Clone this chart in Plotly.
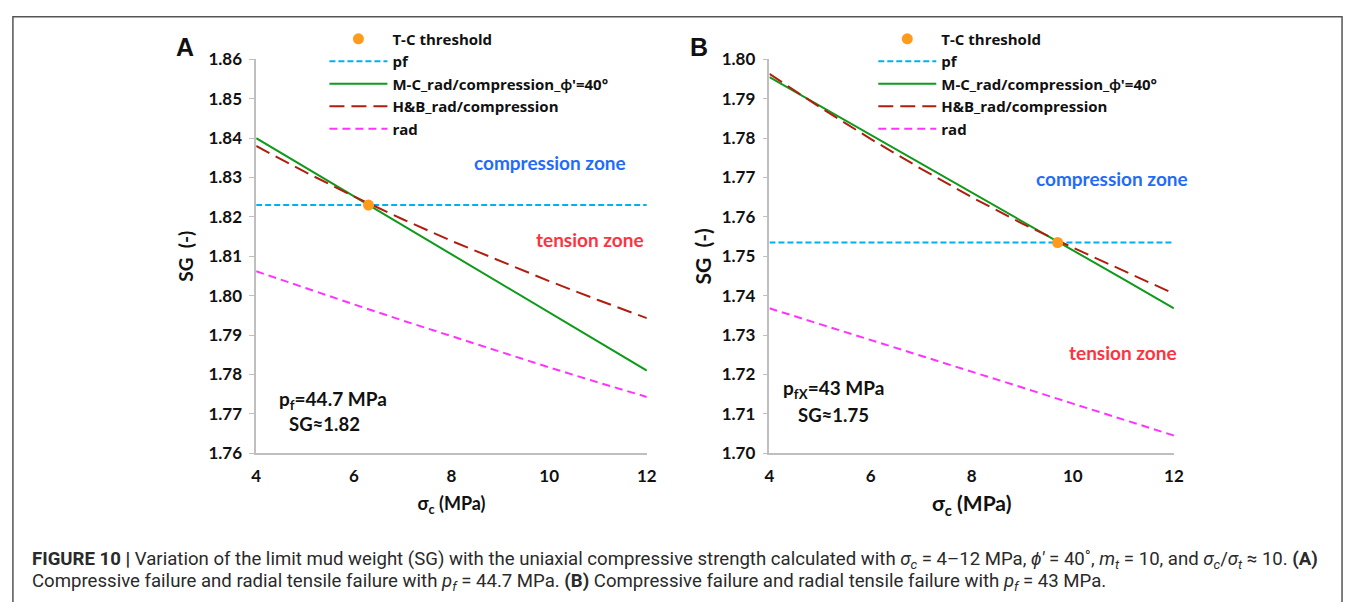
import plotly.graph_objects as go

W, H = 1356, 612

# ---------------- data ----------------
sigma_c = [4, 5, 6, 7, 8, 9, 10, 11, 12]

# Panel A (pf = 44.7 MPa)
a_pf = [1.823] * 9
a_mc = [1.8400, 1.8326, 1.8252, 1.8179, 1.8105, 1.8031, 1.7957, 1.7884, 1.7810]
a_hb = [1.8380, 1.8314, 1.8252, 1.8194, 1.8139, 1.8087, 1.8037, 1.7989, 1.7943]
a_rad = [1.8062, 1.8019, 1.7978, 1.7937, 1.7897, 1.7857, 1.7818, 1.7780, 1.7743]
a_tc_x, a_tc_y = [6.3], [1.823]

# Panel B (pf = 43 MPa)
b_pf = [1.7535] * 9
b_mc = [1.7955, 1.7882, 1.7808, 1.7735, 1.7662, 1.7588, 1.7515, 1.7442, 1.7368]
b_hb = [1.7963, 1.7878, 1.7798, 1.7722, 1.7650, 1.7583, 1.7522, 1.7463, 1.7405]
b_rad = [1.7368, 1.7328, 1.7288, 1.7248, 1.7207, 1.7167, 1.7126, 1.7085, 1.7045]
b_tc_x, b_tc_y = [9.7], [1.7535]

x_ticks = [4, 6, 8, 10, 12]
a_yticks = [1.76, 1.77, 1.78, 1.79, 1.80, 1.81, 1.82, 1.83, 1.84, 1.85, 1.86]
b_yticks = [1.70, 1.71, 1.72, 1.73, 1.74, 1.75, 1.76, 1.77, 1.78, 1.79, 1.80]

names = ["T-C threshold", "pf", "M-C_rad/compression_\u03d5'=40\u00b0", "H&B_rad/compression", "rad"]

# ---------------- styles ----------------
C_PF = "#00B0F0"
C_MC = "#0E9A1A"
C_HB = "#B01E10"
C_RAD = "#FF33FF"
C_TC = "#FF9A1A"
FONT = "Lato, 'Open Sans', sans-serif"
LEGFONT = "'Open Sans', Lato, sans-serif"


def px(x):
    return x / W


def py(y):
    return 1 - y / H


fig = go.Figure()


def add_panel(xa, ya, leg, pf, mc, hb, rad, tcx, tcy):
    fig.add_trace(go.Scatter(x=sigma_c, y=pf, mode="lines", name=names[1], legend=leg, legendrank=2,
                             line=dict(color=C_PF, width=2, dash="6px,3px"), xaxis=xa, yaxis=ya))
    fig.add_trace(go.Scatter(x=sigma_c, y=mc, mode="lines", name=names[2], legend=leg, legendrank=3,
                             line=dict(color=C_MC, width=2), xaxis=xa, yaxis=ya))
    fig.add_trace(go.Scatter(x=sigma_c, y=hb, mode="lines", name=names[3], legend=leg, legendrank=4,
                             line=dict(color=C_HB, width=2, dash="15px,7px"), xaxis=xa, yaxis=ya))
    fig.add_trace(go.Scatter(x=sigma_c, y=rad, mode="lines", name=names[4], legend=leg, legendrank=5,
                             line=dict(color=C_RAD, width=2, dash="8px,5px"), xaxis=xa, yaxis=ya))
    fig.add_trace(go.Scatter(x=tcx, y=tcy, mode="markers", name=names[0], legend=leg, legendrank=1,
                             marker=dict(color=C_TC, size=11), xaxis=xa, yaxis=ya))


add_panel("x", "y", "legend", a_pf, a_mc, a_hb, a_rad, a_tc_x, a_tc_y)
add_panel("x2", "y2", "legend2", b_pf, b_mc, b_hb, b_rad, b_tc_x, b_tc_y)

axis_common = dict(showline=True, linecolor="#BFBFBF", linewidth=1.5, showgrid=False, zeroline=False)


def tfont(size, family=FONT):
    return dict(family=family, size=size, color="#111", weight="bold")


ydom = [py(458), py(50)]
fig.update_layout(
    autosize=True,
    margin=dict(l=0, r=0, t=0, b=0),
    paper_bgcolor="white", plot_bgcolor="white",
    xaxis=dict(domain=[px(254), px(649)], range=[4, 12], tickvals=x_ticks, ticks="", anchor="y",
               tickfont=tfont(17), ticklabelstandoff=7,
               title=dict(text="<b>\u03c3<sub>c</sub> (MPa)</b>", font=dict(family=FONT, size=18, color="#111"), standoff=12),
               **axis_common),
    yaxis=dict(domain=ydom, range=[1.76, 1.86], tickvals=a_yticks, tickformat=".2f", ticks="outside",
               ticklen=5, tickcolor="#BFBFBF", anchor="x", tickfont=tfont(17), ticklabelstandoff=4,
               title=dict(text="<b>SG  (-)</b>", font=dict(family=FONT, size=19, color="#111"), standoff=10),
               **axis_common),
    xaxis2=dict(domain=[px(773), px(1182)], range=[4, 12], tickvals=x_ticks, ticks="", anchor="y2",
                tickfont=tfont(17), ticklabelstandoff=7,
                title=dict(text="<b>\u03c3<sub>c</sub> (MPa)</b>", font=dict(family=FONT, size=21, color="#111"), standoff=11),
                **axis_common),
    yaxis2=dict(domain=ydom, range=[1.70, 1.80], tickvals=b_yticks, tickformat=".2f", ticks="outside",
                ticklen=5, tickcolor="#BFBFBF", anchor="x2", tickfont=tfont(17), ticklabelstandoff=4,
                title=dict(text="<b>SG  (-)</b>", font=dict(family=FONT, size=21, color="#111"), standoff=4),
                **axis_common),
    legend=dict(x=px(323), y=py(12), xanchor="left", yanchor="top", bgcolor="rgba(0,0,0,0)",
                font=tfont(15, LEGFONT), itemwidth=58, tracegroupgap=0),
    legend2=dict(x=px(878), y=py(12), xanchor="left", yanchor="top", bgcolor="rgba(0,0,0,0)",
                 font=tfont(15, LEGFONT), itemwidth=58, tracegroupgap=0),
    showlegend=True,
)

# outer frame (left, top, right)
fig.add_shape(type="path", xref="paper", yref="paper",
              path=f"M {px(8)},{py(612)} L {px(8)},{py(6)} L {px(1352)},{py(6)} L {px(1352)},{py(612)}",
              line=dict(color="#555", width=1.5))


def ann(x, y, text, size=16, color="#111", xanchor="center", family=FONT):
    fig.add_annotation(x=px(x), y=py(y), xref="paper", yref="paper", text=text, showarrow=False,
                       xanchor=xanchor, yanchor="middle",
                       font=dict(family=family, size=size, color=color))


ann(182, 37, "<b>A</b>", size=25, family="Liberation Sans, Arial, sans-serif")
ann(702, 37, "<b>B</b>", size=25, family="Liberation Sans, Arial, sans-serif")
ann(551, 157, "<b>compression zone</b>", size=19, color="#1F6BFF")
ann(592, 237, "<b>tension zone</b>", size=19, color="#FF3340")
ann(332, 403, "<b>p<sub>f</sub>=44.7 MPa</b>", size=19)
ann(323, 428, "<b>SG\u22481.82</b>", size=18.5)
ann(1119, 173, "<b>compression zone</b>", size=19, color="#1F6BFF")
ann(1130, 354, "<b>tension zone</b>", size=19, color="#FF3340")
ann(838, 391, "<b>p<sub>fX</sub>=43 MPa</b>", size=19)
ann(838, 418, "<b>SG\u22481.75</b>", size=18.5)

CAP = "'Liberation Sans Narrow', 'Roboto', sans-serif"
cap1 = ("<b>FIGURE 10 |</b> Variation of the limit mud weight (SG) with the uniaxial compressive strength calculated with "
        "<i>\u03c3<sub>c</sub></i> = 4\u201312 MPa, <i>\u03d5\u2032</i> = 40\u02da, <i>m<sub>t</sub></i> = 10, and "
        "<i>\u03c3<sub>c</sub></i>/<i>\u03c3<sub>t</sub></i> \u2248 10. <b>(A)</b>")
cap2 = ("Compressive failure and radial tensile failure with <i>p<sub>f</sub></i> = 44.7 MPa. <b>(B)</b> Compressive "
        "failure and radial tensile failure with <i>p<sub>f</sub></i> = 43 MPa.")
ann(25, 568, cap1, size=18.6, color="#2a2a2a", xanchor="left", family=CAP)
ann(25, 591, cap2, size=18.6, color="#2a2a2a", xanchor="left", family=CAP)

# pin the plot div to the top-left corner of the 1356x612 window
fig.write_html("out.html", config={"displayModeBar": False},
               default_width="1356px",
               default_height="612px; position:fixed; left:0; top:0")
